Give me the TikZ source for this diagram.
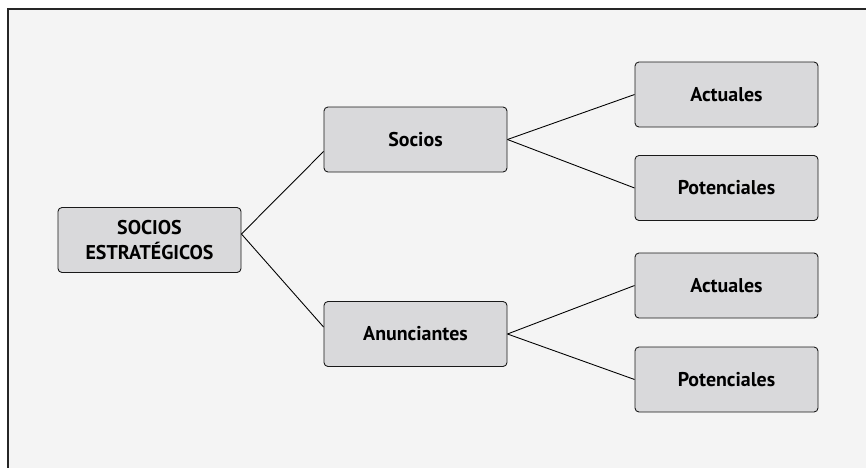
\documentclass[tikz,border=0pt]{standalone}
\usepackage{fontspec}
\setsansfont{PT Sans}
\usepackage{tikz}
\usetikzlibrary{positioning,calc}

\definecolor{cajagris}{HTML}{D9D9DB}
\definecolor{fondogris}{HTML}{F4F4F4}

\tikzset{
    caja/.style={draw=black!90,fill=cajagris,rounded corners=0.12cm,line width=0.75pt,
        minimum width=5.49cm,minimum height=1.95cm,align=center,
        font=\sffamily\bfseries\fontsize{17}{21.5}\selectfont},
    rama/.style={draw=black,line width=0.75pt}
}

\begin{document}
\begin{tikzpicture}[x=0.03cm,y=-0.03cm]
    \useasboundingbox (0,0) rectangle (866,467);
    % marco
    \begin{scope}
    \clip (0,0) rectangle (866,467);
    \draw[fill=fondogris,draw=black!85,line width=1.2pt] (8,9) rectangle (880,480);
    \end{scope}
    % nodos
    \node[caja] (raiz) at (149.5,240) {SOCIOS\\ESTRATÉGICOS};
    \node[caja] (socios) at (415.5,139.5) {Socios};
    \node[caja] (anunc) at (415.5,334) {Anunciantes};
    \node[caja] (act1) at (726.5,94.5) {Actuales};
    \node[caja] (pot1) at (726.5,188) {Potenciales};
    \node[caja] (act2) at (726.5,285.5) {Actuales};
    \node[caja] (pot2) at (726.5,379.5) {Potenciales};
    % ramas
    \draw[rama] ([yshift=0.18cm]raiz.east) -- ([yshift=-0.36cm]socios.west);
    \draw[rama] ([yshift=0.18cm]raiz.east) -- ([yshift=0.21cm]anunc.west);
    \draw[rama] (socios.east) -- (act1.west);
    \draw[rama] (socios.east) -- (pot1.west);
    \draw[rama] (anunc.east) -- (act2.west);
    \draw[rama] (anunc.east) -- (pot2.west);
\end{tikzpicture}
\end{document}
